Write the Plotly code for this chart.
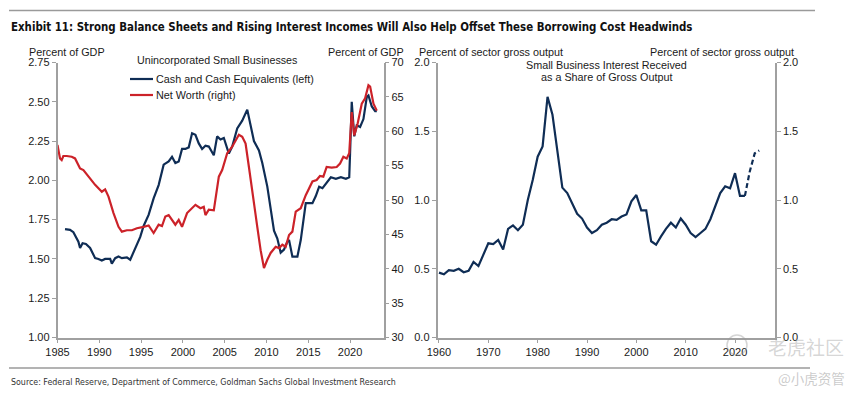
import plotly.graph_objects as go

# ---------------- data ----------------
cash_years = [1985.9, 1986.5, 1986.9, 1987.5, 1987.7, 1988.0, 1988.4, 1988.9, 1989.5, 1989.9,
              1990.3, 1990.7, 1991.3, 1991.5, 1991.9, 1992.3, 1992.7, 1993.3, 1993.7, 1994.5,
              1994.9, 1995.3, 1995.9, 1996.5, 1997.1, 1997.7, 1998.3, 1998.7, 1999.1, 1999.5,
              1999.9, 2000.3, 2000.7, 2001.1, 2001.5, 2001.9, 2002.3, 2002.7, 2003.1, 2003.7,
              2004.1, 2004.5, 2004.9, 2005.5, 2005.9, 2006.5, 2007.1, 2007.7, 2008.1, 2008.5,
              2009.1, 2009.5, 2010.1, 2010.5, 2010.9, 2011.3, 2011.7, 2012.1, 2012.5, 2012.7,
              2013.1, 2013.7, 2014.1, 2014.7, 2015.1, 2015.5, 2015.9, 2016.3, 2016.7, 2017.1,
              2017.7, 2018.3, 2018.9, 2019.5, 2019.9, 2020.0, 2020.2, 2020.5, 2020.8, 2021.2,
              2021.6, 2022.0, 2022.2, 2022.6, 2023.0, 2023.2]
cash_values = [1.69, 1.685, 1.67, 1.61, 1.57, 1.60, 1.595, 1.57, 1.505, 1.50,
               1.49, 1.50, 1.50, 1.47, 1.505, 1.515, 1.505, 1.51, 1.495, 1.60,
               1.64, 1.71, 1.78, 1.885, 1.97, 2.10, 2.12, 2.15, 2.11, 2.12,
               2.20, 2.20, 2.21, 2.30, 2.29, 2.235, 2.20, 2.22, 2.215, 2.16,
               2.28, 2.26, 2.27, 2.17, 2.215, 2.33, 2.38, 2.45, 2.34, 2.25,
               2.19, 2.11, 1.96, 1.81, 1.68, 1.63, 1.54, 1.56, 1.61, 1.62,
               1.515, 1.515, 1.62, 1.855, 1.855, 1.855, 1.90, 1.96, 1.95, 1.98,
               2.02, 2.01, 2.02, 2.01, 2.02, 2.17, 2.50, 2.28, 2.35, 2.34,
               2.39, 2.53, 2.54, 2.47, 2.44, 2.44]

nw_years = [1985.0, 1985.3, 1985.5, 1985.7, 1986.1, 1986.7, 1987.1, 1987.7, 1988.1, 1988.7,
            1989.5, 1990.1, 1990.3, 1990.7, 1991.1, 1991.7, 1992.3, 1992.7, 1993.3, 1993.9,
            1994.5, 1995.3, 1995.9, 1996.5, 1997.1, 1997.5, 1997.9, 1998.3, 1998.7, 1999.1,
            1999.5, 1999.9, 2000.5, 2001.1, 2001.5, 2002.1, 2002.5, 2002.7, 2003.1, 2003.7,
            2004.3, 2004.7, 2005.3, 2005.9, 2006.3, 2006.7, 2007.1, 2007.5, 2007.9, 2008.5,
            2008.9, 2009.3, 2009.7, 2010.1, 2010.5, 2011.1, 2011.5, 2011.9, 2012.3, 2012.7,
            2013.1, 2013.5, 2014.1, 2014.7, 2015.5, 2016.0, 2016.4, 2016.8, 2017.2, 2017.8,
            2018.4, 2018.8, 2019.2, 2019.6, 2019.9, 2020.2, 2020.5, 2020.9, 2021.4, 2021.8,
            2022.2, 2022.4, 2022.8, 2023.2]
nw_values = [58.0, 56.05, 55.8, 56.4, 56.4, 56.3, 56.05, 54.6, 54.35, 53.4,
             52.2, 51.45, 51.2, 51.55, 50.5, 48.1, 46.1, 45.4, 45.6, 45.6,
             45.9, 46.1, 46.3, 45.2, 46.4, 46.2, 47.6, 47.8, 47.1, 46.4,
             47.1, 46.1, 48.1, 48.8, 49.3, 48.8, 49.0, 47.8, 48.6, 48.5,
             53.4, 54.35, 56.8, 57.75, 58.7, 59.5, 59.2, 58.2, 54.8, 50.0,
             46.1, 42.7, 40.1, 41.3, 42.3, 43.2, 43.0, 43.5, 43.2, 44.9,
             45.4, 48.3, 48.8, 50.7, 52.7, 52.9, 53.5, 53.4, 54.8, 54.7,
             54.8, 55.3, 56.3, 56.05, 56.8, 62.8, 59.4, 61.1, 64.0, 64.8,
             66.7, 66.5, 64.0, 63.0]

int_years = list(range(1960, 2023))
int_values = [0.472, 0.46, 0.49, 0.485, 0.50, 0.475, 0.485, 0.55, 0.52, 0.60,
              0.685, 0.68, 0.71, 0.64, 0.79, 0.815, 0.78, 0.82, 1.00, 1.145,
              1.315, 1.39, 1.75, 1.62, 1.36, 1.09, 1.05, 0.98, 0.90, 0.865,
              0.80, 0.76, 0.78, 0.82, 0.835, 0.86, 0.855, 0.88, 0.895, 0.99,
              1.036, 0.925, 0.925, 0.70, 0.675, 0.735, 0.79, 0.835, 0.80, 0.865,
              0.82, 0.76, 0.73, 0.76, 0.79, 0.86, 0.95, 1.05, 1.10, 1.085,
              1.195, 1.03, 1.03]
proj_years = [2022, 2023, 2024, 2024.9]
proj_values = [1.03, 1.21, 1.34, 1.36]

left_ticks = [1.00, 1.25, 1.50, 1.75, 2.00, 2.25, 2.50, 2.75]
right_ticks = [30, 35, 40, 45, 50, 55, 60, 65, 70]
left_x_ticks = [1985, 1990, 1995, 2000, 2005, 2010, 2015, 2020]
right_x_ticks = [1960, 1970, 1980, 1990, 2000, 2010, 2020]
share_ticks = [0.0, 0.5, 1.0, 1.5, 2.0]

# ---------------- style ----------------
BLUE = "#0f2d55"
RED = "#cc2229"
AXIS = "#a0a0a0"
TXT = "#1a1a1a"
FONT = "Liberation Sans, Arial, sans-serif"
NARROW = "DejaVu Sans Condensed, Liberation Sans Narrow, sans-serif"
W, H = 863, 397


def px_x(p):
    return p / W


def px_y(p):
    return 1 - p / H


fig = go.Figure()

fig.add_trace(go.Scatter(x=cash_years, y=cash_values, mode="lines",
                         line=dict(color=BLUE, width=2.2), xaxis="x", yaxis="y",
                         showlegend=False))
fig.add_trace(go.Scatter(x=nw_years, y=nw_values, mode="lines",
                         line=dict(color=RED, width=2.2), xaxis="x", yaxis="y2",
                         showlegend=False))
fig.add_trace(go.Scatter(x=int_years, y=int_values, mode="lines",
                         line=dict(color=BLUE, width=2.2), xaxis="x2", yaxis="y3",
                         showlegend=False))
fig.add_trace(go.Scatter(x=proj_years, y=proj_values, mode="lines",
                         line=dict(color=BLUE, width=2.2, dash="5px,3px"), xaxis="x2", yaxis="y3",
                         showlegend=False))
# invisible helper so the right-hand axis of the second panel is drawn
fig.add_trace(go.Scatter(x=int_years, y=int_values, mode="lines", opacity=0,
                         line=dict(width=0), xaxis="x2", yaxis="y4",
                         showlegend=False, hoverinfo="skip"))

ax_common = dict(showgrid=False, zeroline=False, showline=True, linecolor=AXIS,
                 linewidth=1.5, ticks="outside", ticklen=4, tickcolor=AXIS,
                 automargin=False,
                 tickfont=dict(family=FONT, size=11, color=TXT))

L0, L1 = px_x(57.5), px_x(383.5)
R0, R1 = px_x(437.5), px_x(775)
B, T = px_y(337.5), px_y(62.5)

fig.update_layout(
    template="none",
    width=W, height=H,
    autosize=False,
    margin=dict(l=0, r=0, t=0, b=0, pad=0),
    paper_bgcolor="white", plot_bgcolor="white",
    showlegend=False,
    xaxis=dict(domain=[L0, L1], range=[1985, 2024], tickvals=left_x_ticks,
               anchor="y", **ax_common),
    yaxis=dict(domain=[B, T], range=[1.0, 2.75], tickvals=left_ticks, tickformat=".2f",
               anchor="x", **ax_common),
    yaxis2=dict(range=[30, 70], tickvals=right_ticks, overlaying="y", side="right",
                anchor="x", **ax_common),
    xaxis2=dict(domain=[R0, R1], range=[1959.7, 2028.1], tickvals=right_x_ticks,
                anchor="y3", **ax_common),
    yaxis3=dict(domain=[B, T], range=[0, 2.0], tickvals=share_ticks, tickformat=".1f",
                anchor="x2", **ax_common),
    yaxis4=dict(range=[0, 2.0], tickvals=share_ticks, tickformat=".1f", overlaying="y3",
                side="right", anchor="x2", **ax_common),
)

ann = []


def text(x, y, s, size=11, xanchor="center", family=FONT, color=TXT):
    ann.append(dict(x=px_x(x), y=px_y(y), xref="paper", yref="paper", text=s,
                    showarrow=False, xanchor=xanchor, yanchor="middle",
                    font=dict(family=family, size=size, color=color)))


text(9, 27, "<b>Exhibit 11: Strong Balance Sheets and Rising Interest Incomes Will Also Help Offset These Borrowing Cost Headwinds</b>",
     size=11.4, xanchor="left", family=NARROW, color="#111111")
text(27, 52, "Percent of GDP", size=10.8, xanchor="left")
text(326, 52, "Percent of GDP", size=10.8, xanchor="left")
text(217, 60, "Unincorporated Small Businesses", size=10.7)
text(154, 79, "Cash and Cash Equivalents (left)", size=10.8, xanchor="left")
text(154, 95, "Net Worth (right)", size=10.8, xanchor="left")
text(417, 52, "Percent of sector gross output", size=10.8, xanchor="left")
text(648, 52, "Percent of sector gross output", size=10.8, xanchor="left")
text(606, 65, "Small Business Interest Received", size=10.8)
text(606, 77, "as a Share of Gross Output", size=10.8)
text(9, 382, "Source: Federal Reserve, Department of Commerce, Goldman Sachs Global Investment Research",
     size=8.8, xanchor="left", family=NARROW, color="#333333")
text(846, 346, "老虎社区", size=19, xanchor="right", color="rgba(150,150,150,0.4)",
     family="Noto Sans CJK SC")
text(847, 378, "@小虎资管", size=13.5, xanchor="right", color="rgba(150,150,150,0.5)",
     family="Noto Sans CJK SC")
fig.update_layout(annotations=ann)

shapes = [
    dict(type="line", xref="paper", yref="paper", x0=px_x(130), x1=px_x(153),
         y0=px_y(79), y1=px_y(79), line=dict(color=BLUE, width=2.2)),
    dict(type="line", xref="paper", yref="paper", x0=px_x(130), x1=px_x(153),
         y0=px_y(95), y1=px_y(95), line=dict(color=RED, width=2.2)),
    dict(type="line", xref="paper", yref="paper", x0=px_x(9), x1=px_x(815),
         y0=px_y(10.5), y1=px_y(10.5), line=dict(color="#9a9a9a", width=1.5)),
    dict(type="line", xref="paper", yref="paper", x0=px_x(9), x1=px_x(810),
         y0=px_y(368), y1=px_y(368), line=dict(color="#9a9a9a", width=1.5)),
    dict(type="circle", xref="paper", yref="paper", x0=px_x(727), x1=px_x(747),
         y0=px_y(355), y1=px_y(335), line=dict(color="rgba(150,150,150,0.4)", width=1.5)),
]
fig.update_layout(shapes=shapes)

fig.write_html("out.html", config={"displayModeBar": False},
               post_script="document.body.style.margin='0';")
